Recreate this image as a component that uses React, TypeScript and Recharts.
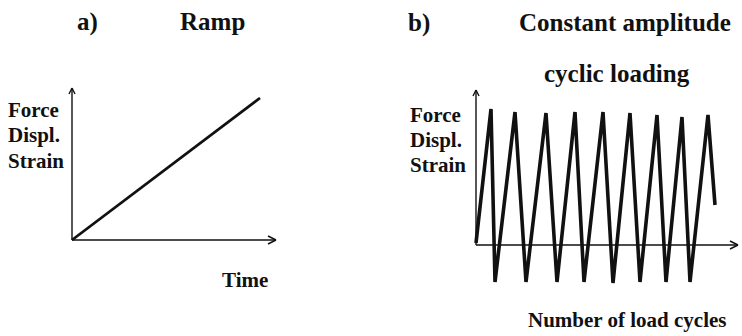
import { LineChart, Line, XAxis, YAxis, ReferenceLine } from 'recharts'

// a) ramp: time vs. force/displacement/strain
const rampTime = [0, 188]
const rampLoad = [0, 142]

// b) constant amplitude cyclic loading (turning points of the wave)
const cycleX = [0, 15, 19, 39, 50, 70, 81, 99, 108, 127, 137, 154, 164, 181, 190, 206, 214, 232, 239]
const cycleY = [2, 136, -37, 133, -37, 132, -37, 133, -37, 133, -38, 132, -37, 130, -37, 128, -37, 130, 40]

const rampData = rampTime.map((t, i) => ({ t, v: rampLoad[i] }))
const cycleData = cycleX.map((n, i) => ({ n, v: cycleY[i] }))

const ink = '#111'
const font = '"Liberation Serif", "Times New Roman", serif'

// axis lines with open arrow heads, in data units
function axes(xEnd: number, yEnd: number) {
  const segs = [
    [{ x: 0, y: 0 }, { x: xEnd, y: 0 }],
    [{ x: 0, y: 0 }, { x: 0, y: yEnd }],
    [{ x: xEnd - 8, y: 4 }, { x: xEnd, y: 0 }],
    [{ x: xEnd - 8, y: -4 }, { x: xEnd, y: 0 }],
    [{ x: -3, y: yEnd - 6 }, { x: 0, y: yEnd }],
    [{ x: 3, y: yEnd - 6 }, { x: 0, y: yEnd }],
  ]
  return segs.map((s, i) => (
    <ReferenceLine key={i} segment={s} stroke={ink} strokeWidth={1.4} ifOverflow="visible" />
  ))
}

const labels = [
  { text: 'a)', x: 77, y: 30, size: 25 },
  { text: 'Ramp', x: 180, y: 30, size: 25 },
  { text: 'b)', x: 408, y: 31, size: 25 },
  { text: 'Constant amplitude', x: 519, y: 31, size: 25 },
  { text: 'cyclic loading', x: 544, y: 82, size: 25 },
  { text: 'Force', x: 8, y: 117, size: 21 },
  { text: 'Displ.', x: 8, y: 142, size: 21 },
  { text: 'Strain', x: 8, y: 168, size: 21 },
  { text: 'Time', x: 222, y: 287, size: 21 },
  { text: 'Force', x: 410, y: 122, size: 21 },
  { text: 'Displ.', x: 410, y: 147, size: 21 },
  { text: 'Strain', x: 410, y: 172, size: 21 },
  { text: 'Number of load cycles', x: 528, y: 327, size: 21 },
]

export default function App() {
  return (
    <div style={{ position: 'absolute', left: 0, top: 0, width: 742, height: 336, background: '#fff' }}>
      <div style={{ position: 'absolute', left: 0, top: 0 }}>
        <LineChart width={300} height={260} data={rampData} margin={{ top: 80, right: 24, bottom: 20, left: 72 }}>
          <XAxis dataKey="t" type="number" domain={[0, 204]} hide />
          <YAxis type="number" domain={[0, 160]} hide />
          {axes(204, 152)}
          <Line
            dataKey="v"
            type="linear"
            stroke={ink}
            strokeWidth={2.8}
            dot={false}
            isAnimationActive={false}
          />
        </LineChart>
      </div>
      <div style={{ position: 'absolute', left: 371, top: 0 }}>
        <LineChart width={371} height={336} data={cycleData} margin={{ top: 80, right: 4, bottom: 46, left: 105 }}>
          <XAxis dataKey="n" type="number" domain={[0, 262]} hide />
          <YAxis type="number" domain={[-45, 165]} hide />
          {axes(262, 155)}
          <Line
            dataKey="v"
            type="linear"
            stroke={ink}
            strokeWidth={3.6}
            dot={false}
            isAnimationActive={false}
          />
        </LineChart>
      </div>
      <svg width={742} height={336} style={{ position: 'absolute', left: 0, top: 0, pointerEvents: 'none' }}>
        {labels.map((l, i) => (
          <text key={i} x={l.x} y={l.y} fontFamily={font} fontWeight="bold" fontSize={l.size} fill={ink}>
            {l.text}
          </text>
        ))}
      </svg>
    </div>
  )
}
